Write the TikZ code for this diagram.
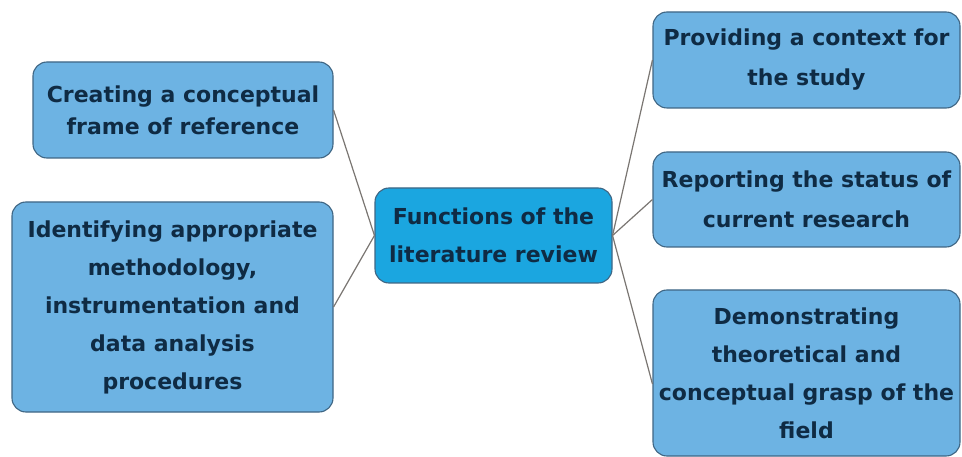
\documentclass[tikz,border=0pt]{standalone}
\usepackage{fontspec}
\setmainfont{DejaVu Sans}
\definecolor{boxfill}{HTML}{6DB3E3}
\definecolor{hubfill}{HTML}{1BA6E0}
\definecolor{edgecol}{HTML}{3F6684}
\definecolor{txt}{HTML}{0F2B44}
\definecolor{linkcol}{HTML}{7A7672}
\tikzset{
  box/.style={draw=edgecol, line width=1.1pt, rounded corners=14pt, fill=boxfill,
    text=txt, align=center, inner sep=0pt,
    font=\bfseries\fontsize{22}{38}\selectfont},
  hub/.style={box, fill=hubfill},
  link/.style={draw=linkcol, line width=1.2pt}
}
\begin{document}
\begin{tikzpicture}[x=1pt,y=-1pt]
\useasboundingbox[fill=white] (0,0) rectangle (962,457);
% central topic
\node[hub, minimum width=237pt, minimum height=95pt] (hub) at (493.5,235.5)
  {Functions of the\\literature review};
% left branches
\node[box, minimum width=300pt, minimum height=96pt,
  font=\bfseries\fontsize{22}{32}\selectfont] (frame) at (183,110)
  {Creating a conceptual\\frame of reference};
\node[box, minimum width=321pt, minimum height=210pt] (method) at (172.5,307)
  {Identifying appropriate\\methodology,\\instrumentation and\\data analysis\\procedures};
% right branches
\node[box, minimum width=307pt, minimum height=96pt,
  font=\bfseries\fontsize{22}{40}\selectfont] (context) at (806.5,60)
  {Providing a context for\\the study};
\node[box, minimum width=307pt, minimum height=95pt,
  font=\bfseries\fontsize{22}{40}\selectfont] (status) at (806.5,199.5)
  {Reporting the status of\\current research};
\node[box, minimum width=307pt, minimum height=166pt] (grasp) at (806.5,373)
  {Demonstrating\\theoretical and\\conceptual grasp of the\\field};
% connectors
\draw[link] (frame.east) -- (hub.west);
\draw[link] (method.east) -- (hub.west);
\draw[link] (hub.east) -- (context.west);
\draw[link] (hub.east) -- (status.west);
\draw[link] (hub.east) -- ([yshift=-11pt]grasp.west);
\end{tikzpicture}
\end{document}
